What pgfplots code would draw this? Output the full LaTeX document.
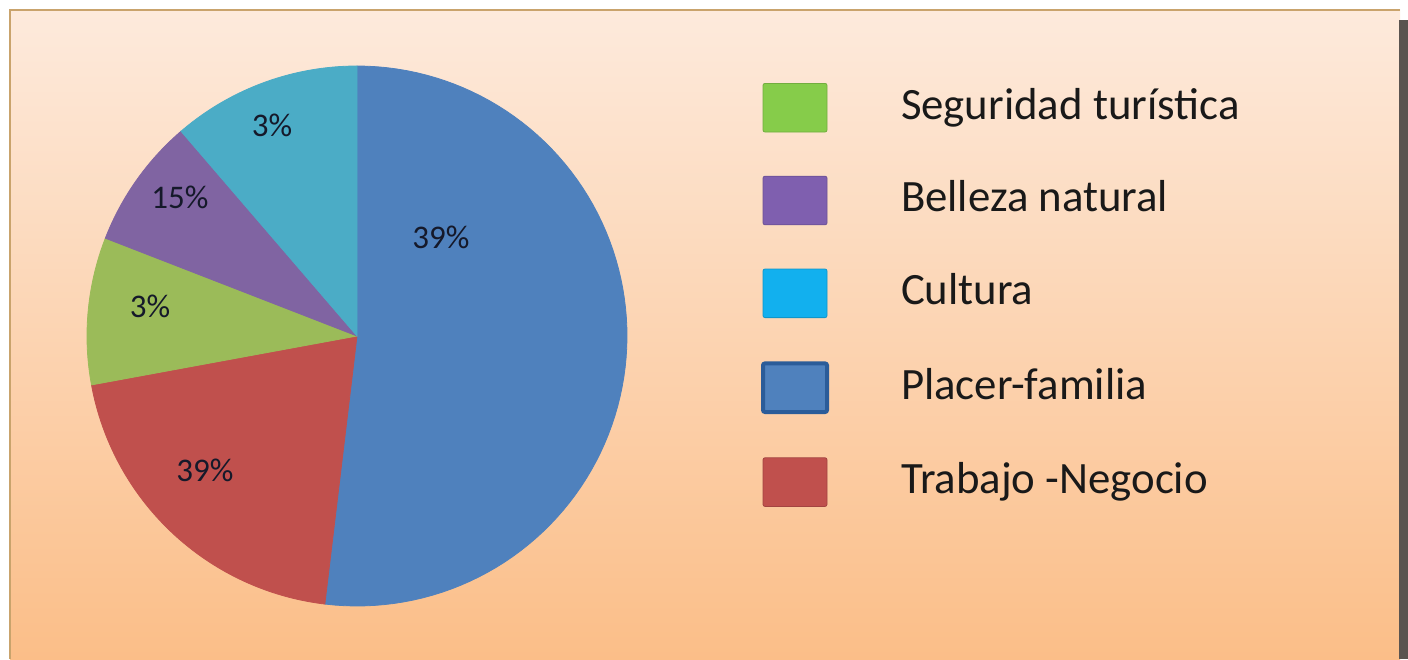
\documentclass[border=0pt]{standalone}
\usepackage{pgfplots}
\pgfplotsset{compat=1.18}
\usepackage{pgfplotstable}
\usepackage{fontspec}
\setmainfont{Carlito}

\definecolor{sliceblue}{HTML}{4F81BD}
\definecolor{slicered}{HTML}{C0504D}
\definecolor{slicegreen}{HTML}{9BBB59}
\definecolor{slicepurple}{HTML}{8064A2}
\definecolor{slicecyan}{HTML}{4BACC6}
\definecolor{leggreen}{HTML}{86CC4A}
\definecolor{legpurple}{HTML}{7F5FAF}
\definecolor{legcyan}{HTML}{12B0EE}
\definecolor{legblueedge}{HTML}{2B5C99}
\definecolor{bgtop}{HTML}{FDEADC}
\definecolor{bgbot}{HTML}{FBBE88}
\definecolor{bordertan}{HTML}{C9A36C}
\definecolor{edgeshadow}{HTML}{5A5450}
\definecolor{labeltext}{HTML}{15192A}

% slice shares in percent, clockwise from 12 o'clock
\pgfplotstableread{
name            share
Placer-familia  51.9
Trabajo-Negocio 20.2
Seguridad       8.8
Belleza         7.8
Cultura         11.3
}\piedata

\newcommand\shareangle[1]{%
  \pgfplotstablegetelem{#1}{share}\of\piedata
  \pgfmathsetmacro\tmpangle{3.6*\pgfplotsretval}}
\def\angA{0}
\shareangle{0}\pgfmathsetmacro\angB{\angA+\tmpangle}
\shareangle{1}\pgfmathsetmacro\angC{\angB+\tmpangle}
\shareangle{2}\pgfmathsetmacro\angD{\angC+\tmpangle}
\shareangle{3}\pgfmathsetmacro\angE{\angD+\tmpangle}
\shareangle{4}\pgfmathsetmacro\angF{\angE+\tmpangle}

\def\cx{357}
\def\cy{323}
\def\rr{270}

\begin{document}
\begin{tikzpicture}[x=0.5pt,y=0.5pt]
% frame and background
\fill[white] (0,0) rectangle (1408,659);
\shade[top color=bgtop, bottom color=bgbot] (10,0) rectangle (1400,649);
\draw[bordertan, line width=0.8pt] (10,0) -- (10,649) -- (1400,649);
\fill[edgeshadow] (1399,0) rectangle (1408,639);

\begin{axis}[
    at={(0,0)}, anchor=south west,
    x=0.5pt, y=0.5pt,
    xmin=0, xmax=1408, ymin=0, ymax=659,
    hide axis, clip=false,
    legend cell align=left,
    legend image code/.code={\draw[#1] (0pt,-11.9pt) rectangle (32pt,12.4pt);},
    legend style={at={(axis cs:761,576)}, anchor=north west,
        draw=none, fill=none, inner sep=0pt, outer sep=0pt,
        row sep=21.7pt, column sep=36pt,
        font=\fontsize{22.4}{25}\selectfont, text=black!90,
        nodes={inner sep=0pt, text height=16.5pt, text depth=5.6pt}},
    samples=90,
]
\addplot[forget plot, draw=sliceblue, line width=0.4pt, fill=sliceblue, domain=\angA:\angB]
    ({\cx+\rr*sin(x)}, {\cy+\rr*cos(x)}) -- (\cx,\cy) -- cycle;
\addplot[forget plot, draw=slicered, line width=0.4pt, fill=slicered, domain=\angB:\angC]
    ({\cx+\rr*sin(x)}, {\cy+\rr*cos(x)}) -- (\cx,\cy) -- cycle;
\addplot[forget plot, draw=slicegreen, line width=0.4pt, fill=slicegreen, domain=\angC:\angD]
    ({\cx+\rr*sin(x)}, {\cy+\rr*cos(x)}) -- (\cx,\cy) -- cycle;
\addplot[forget plot, draw=slicepurple, line width=0.4pt, fill=slicepurple, domain=\angD:\angE]
    ({\cx+\rr*sin(x)}, {\cy+\rr*cos(x)}) -- (\cx,\cy) -- cycle;
\addplot[forget plot, draw=slicecyan, line width=0.4pt, fill=slicecyan, domain=\angE:\angF]
    ({\cx+\rr*sin(x)}, {\cy+\rr*cos(x)}) -- (\cx,\cy) -- cycle;

% slice labels as printed on the original
\begin{scope}[every node/.style={font=\fontsize{16.5}{18}\selectfont, text=labeltext, inner sep=0pt}]
\node at (441,422) {39\%};
\node at (205,189) {39\%};
\node at (150,353) {3\%};
\node at (180,462) {15\%};
\node at (272,534) {3\%};
\end{scope}

\addlegendimage{fill=leggreen, draw=leggreen!85!black, line width=0.4pt, rounded corners=1pt}
\addlegendentry{Seguridad turística}
\addlegendimage{fill=legpurple, draw=legpurple!85!black, line width=0.4pt, rounded corners=1pt}
\addlegendentry{Belleza natural}
\addlegendimage{fill=legcyan, draw=legcyan!85!black, line width=0.4pt, rounded corners=1pt}
\addlegendentry{Cultura}
\addlegendimage{fill=sliceblue, draw=legblueedge, line width=2pt, rounded corners=1pt}
\addlegendentry{Placer-familia}
\addlegendimage{fill=slicered, draw=slicered!85!black, line width=0.4pt, rounded corners=1pt}
\addlegendentry{Trabajo -Negocio}
\end{axis}
\end{tikzpicture}
\end{document}
